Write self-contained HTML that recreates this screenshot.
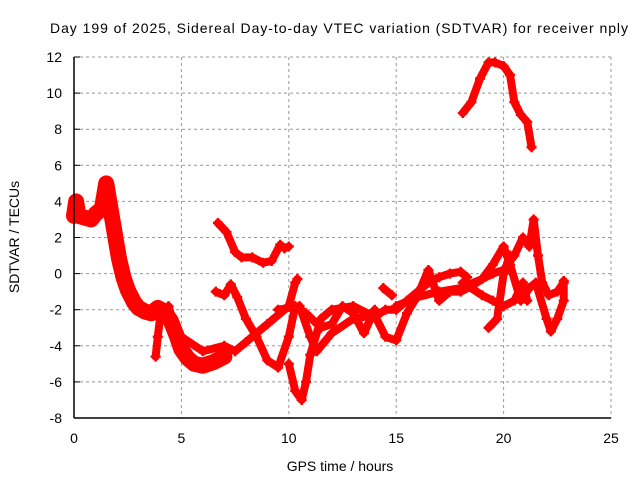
<!DOCTYPE html>
<html><head><meta charset="utf-8"><style>
body{margin:0;background:#fff;width:640px;height:480px;overflow:hidden}
svg text{font-family:"Liberation Sans",sans-serif;font-size:14px;fill:#000}
</style></head><body>
<svg id="chart" width="640" height="480" viewBox="0 0 640 480">
<text x="50" y="33" font-size="15.6" textLength="578" lengthAdjust="spacing">Day 199 of 2025, Sidereal Day-to-day VTEC variation (SDTVAR) for receiver nply</text>
<text x="340" y="471" text-anchor="middle" font-size="14.5">GPS time / hours</text>
<text transform="translate(19,237) rotate(-90)" text-anchor="middle" font-size="14.5">SDTVAR / TECUs</text>
<g id="grid"></g>
<g id="ticks"></g>
<g id="series"></g>
<line x1="74" y1="57" x2="74" y2="418" stroke="#000" stroke-width="1.5"/>
<line x1="74" y1="418" x2="611" y2="418" stroke="#000" stroke-width="1.5"/>
</svg>
<script>
const xTicks=[0,5,10,15,20,25];
const yTicks=[-8,-6,-4,-2,0,2,4,6,8,10,12];
const s1x=[0,0.1,0.2,0.5,0.8,1.0,1.3,1.5,1.6,1.7,1.9,2.1,2.3,2.5,2.8,3.0,3.3,3.6,3.9,4.2,4.5,4.8,5.0,5.3,5.6,6.0,6.5,7.0];
const s1y=[3.2,4.0,3.2,3.1,3.0,3.3,3.6,5.0,4.3,3.6,2.2,0.8,-0.2,-0.9,-1.6,-1.9,-2.1,-2.2,-1.9,-2.1,-2.6,-3.5,-4.2,-4.7,-5.0,-5.1,-4.9,-4.6];
const s2x=[3.8,3.9,4.0,4.1,4.4,4.6];
const s2y=[-4.6,-3.5,-2.5,-2.2,-1.8,-2.6];
const s3x=[6.7,7.1,7.5,7.8,8.3,8.8,9.2,9.6,9.8,10];
const s3y=[2.8,2.3,1.2,0.9,0.9,0.6,0.7,1.6,1.4,1.5];
const s4x=[6.6,7.0,7.3,7.6,8.0,8.5,9.0,9.5,10.0,10.3,10.8,11.5,12,12.5,13,13.5,14];
const s4y=[-1.0,-1.2,-0.6,-1.3,-2.5,-3.5,-4.8,-5.2,-3.5,-1.8,-2.2,-3.0,-2.8,-1.8,-2.2,-3.3,-2.0];
const s5x=[5.0,6.0,7.0,7.5,8.0,9.0,10.0,10.3,10.4];
const s5y=[-3.5,-4.3,-4.0,-4.3,-3.8,-2.8,-1.8,-0.5,-0.3];
const s6x=[10.0,10.3,10.6,10.8,11.0,11.5,12.0,13,14,14.5,15,15.5,16,16.5,17,17.5,18,18.3];
const s6y=[-5.0,-6.5,-7.0,-6.0,-4.5,-2.5,-2.0,-1.8,-2.4,-2.0,-2.0,-1.5,-1.0,-0.5,-0.2,0,0.1,-0.2];
const s7x=[9.5,10.5,11,11.3,12,13,14,14.5,15,15.5,16,16.5,17,17.5,18,18.5,19,19.5,20,20.3,20.8,21.2,21.5,22,22.2,22.5,22.8,22.8];
const s7y=[-2.0,-1.8,-3.5,-4.3,-3.3,-2.5,-2.3,-3.5,-3.7,-2.2,-1.2,0.2,-1.5,-1.0,-1.0,-0.7,-0.3,0.5,1.5,0.5,-1.5,-0.8,-0.5,-2.5,-3.2,-2.5,-1.5,-0.4];
const s8x=[15,16,17,18,19,19.5,20,20.5,20.9,21.2,21.4,21.6,21.8,22.1,22.5,22.8];
const s8y=[-1.8,-1.3,-1.0,-0.8,-0.3,0,0.2,1.0,2.0,1.5,3.0,1.0,-0.5,-1.2,-1.0,-0.5];
const s9x=[18.1,19,19.5,20,20.5,20.9,21.1];
const s9y=[-0.5,-1.2,-1.5,-1.8,-1.5,-0.5,-1.5];
const s10x=[19.3,19.7,20.0,20.3];
const s10y=[-3.0,-2.5,0,1.0];
const s11x=[18.1,18.5,18.9,19.3,19.6,20,20.3,20.5,20.8,21.1,21.3];
const s11y=[8.9,9.5,10.8,11.7,11.7,11.5,11,9.5,8.8,8.4,7.0];
const s12x=[14.4,14.8];
const s12y=[-0.8,-1.2];
const allX=[s1x,s2x,s3x,s4x,s5x,s6x,s7x,s8x,s9x,s10x,s11x,s12x];
const allY=[s1y,s2y,s3y,s4y,s5y,s6y,s7y,s8y,s9y,s10y,s11y,s12y];
const NS='http://www.w3.org/2000/svg';
const X=v=>74+v*(537/25), Y=v=>418-(v+8)*(361/20);
const grid=document.getElementById('grid'),ticks=document.getElementById('ticks'),ser=document.getElementById('series');
function mk(t,a,p){const e=document.createElementNS(NS,t);for(const k in a)e.setAttribute(k,a[k]);p.appendChild(e);return e;}
xTicks.forEach(v=>{
 const l=mk('line',{x1:X(v),x2:X(v),y1:57,y2:418,stroke:'#999','stroke-dasharray':'3,3'},grid);
 
 
 const t=mk('text',{x:X(v),y:443,'text-anchor':'middle'},ticks);t.textContent=v;
 
 
});
yTicks.forEach(v=>{
 const l=mk('line',{x1:74,x2:611,y1:Y(v),y2:Y(v),stroke:'#999','stroke-dasharray':'3,3'},grid);
 
 
 const k=mk('line',{x1:74,x2:80,y1:Y(v),y2:Y(v),stroke:'#000'},ticks);
 
 
 const t=mk('text',{x:62,y:Y(v)+5,'text-anchor':'end'},ticks);t.textContent=v;
 
 
});
allX.forEach((xs,i)=>{
 const pts=xs.map((x,j)=>X(x)+','+Y(allY[i][j])).join(' ');
 const p=mk('polyline',{points:pts,fill:'none',stroke:'#f00','stroke-width':i===0?16:8,'stroke-linejoin':'round','stroke-linecap':'round'},ser);
 
 
 xs.forEach((x,j)=>{
  const cx=X(x),cy=Y(allY[i][j]);
  const m=mk('path',{d:`M${cx-5},${cy}H${cx+5}M${cx},${cy-5}V${cy+5}`,stroke:'#f00','stroke-width':2.5},ser);
  
  
 });
});
</script>
</body></html>
